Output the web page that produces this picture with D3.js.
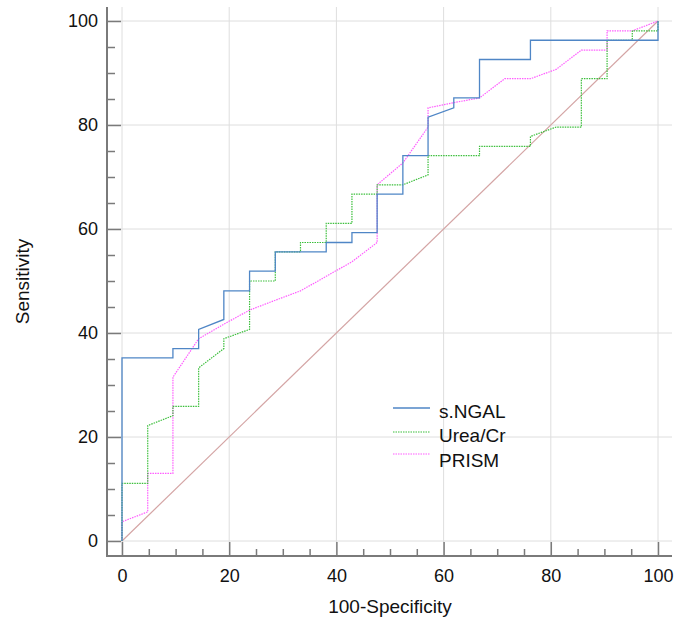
<!DOCTYPE html>
<html>
<head>
<meta charset="utf-8">
<script src="https://cdn.jsdelivr.net/npm/d3@7"></script>
<style>
  html, body { margin: 0; padding: 0; background: #fff; }
  svg { display: block; font-family: "Liberation Sans", Arial, sans-serif; }
</style>
</head>
<body>
<div id="chart"></div>
<script>
// ROC curves: 100-Specificity (x) vs Sensitivity (y)
const ngalX = [0, 0, 9.5, 9.5, 14.3, 14.3, 19.0, 19.0, 23.8, 23.8, 28.6, 28.6, 38.1, 38.1, 42.9, 42.9, 47.6, 47.6, 52.4, 52.4, 57.1, 57.1, 61.9, 61.9, 66.7, 66.7, 76.2, 76.2, 100, 100];
const ngalY = [0, 35.2, 35.2, 37.0, 37.0, 40.7, 42.6, 48.1, 48.1, 51.9, 51.9, 55.6, 55.6, 57.4, 57.4, 59.3, 59.3, 66.7, 66.7, 74.1, 74.1, 81.5, 83.3, 85.2, 85.2, 92.6, 92.6, 96.3, 96.3, 100];

const ureaX = [0, 0, 4.8, 4.8, 9.5, 9.5, 14.3, 14.3, 19.0, 19.0, 23.8, 23.8, 28.6, 28.6, 33.3, 33.3, 38.1, 38.1, 42.9, 42.9, 47.6, 47.6, 52.4, 57.1, 57.1, 66.7, 66.7, 76.2, 76.2, 81.0, 85.7, 85.7, 90.5, 90.5, 95.2, 95.2, 100, 100];
const ureaY = [0, 11.1, 11.1, 22.2, 24.1, 25.9, 25.9, 33.3, 37.0, 38.9, 40.7, 50.0, 50.0, 55.6, 55.6, 57.4, 57.4, 61.1, 61.1, 66.7, 66.7, 68.5, 68.5, 70.4, 74.1, 74.1, 75.9, 75.9, 77.8, 79.6, 79.6, 88.9, 88.9, 96.3, 96.3, 98.1, 98.1, 100];

const prismX = [0, 0, 4.8, 4.8, 9.5, 9.5, 14.3, 19.0, 23.8, 28.6, 33.3, 38.1, 42.9, 47.6, 47.6, 52.4, 57.1, 57.1, 61.9, 66.7, 71.4, 76.2, 81.0, 85.7, 90.5, 90.5, 95.2, 100];
const prismY = [0, 3.7, 5.6, 13.0, 13.0, 31.5, 38.9, 41.7, 44.4, 46.3, 48.1, 50.9, 53.7, 57.4, 68.5, 72.7, 79.6, 83.3, 84.3, 85.2, 88.9, 88.9, 90.7, 94.4, 94.4, 98.1, 98.1, 100];

const refX = [0, 100];
const refY = [0, 100];

const seriesNames = ["s.NGAL", "Urea/Cr", "PRISM"];
const majorTicks = [0, 20, 40, 60, 80, 100];
const minorTicks = d3.range(0, 101, 5).filter((v) => v % 20 !== 0);

const series = [
  { name: seriesNames[0], xs: ngalX, ys: ngalY, color: "#4f86c6", dash: null, width: 1.3 },
  { name: seriesNames[1], xs: ureaX, ys: ureaY, color: "#3cbf3c", dash: "1.5,1", width: 1.2 },
  { name: seriesNames[2], xs: prismX, ys: prismY, color: "#ff5cff", dash: "1.5,1", width: 1.2 },
];

const width = 675;
const height = 619;
const axisColor = "#7a7a7a";
const gridColor = "#dedede";

const svg = d3
  .select("#chart")
  .append("svg")
  .attr("width", width)
  .attr("height", height);

const x = d3.scaleLinear().domain([0, 100]).range([122, 658]);
const y = d3.scaleLinear().domain([0, 100]).range([541, 21]);

const frame = { left: 107, right: 672, top: 7, bottom: 556 };

// grid
const grid = svg.append("g").attr("stroke", gridColor).attr("stroke-width", 1);
grid
  .selectAll(".vg")
  .data(majorTicks)
  .join("line")
  .attr("x1", (d) => x(d))
  .attr("x2", (d) => x(d))
  .attr("y1", frame.top)
  .attr("y2", frame.bottom);
grid
  .selectAll(".hg")
  .data(majorTicks)
  .join("line")
  .attr("x1", frame.left)
  .attr("x2", frame.right)
  .attr("y1", (d) => y(d))
  .attr("y2", (d) => y(d));

// axes
function styleAxis(sel) {
  sel.select(".domain").remove();
  sel.selectAll(".tick line").attr("stroke", axisColor).attr("stroke-width", 1.5);
  sel.selectAll(".tick text").attr("fill", "#111").attr("font-size", 18);
}

const xAxis = svg
  .append("g")
  .attr("transform", `translate(0,${frame.bottom})`)
  .call(d3.axisBottom(x).tickValues(majorTicks).tickSizeInner(-14).tickSizeOuter(0).tickPadding(13));
styleAxis(xAxis);

const xMinor = svg
  .append("g")
  .attr("transform", `translate(0,${frame.bottom})`)
  .call(d3.axisBottom(x).tickValues(minorTicks).tickSizeInner(-7).tickSizeOuter(0).tickFormat(""));
styleAxis(xMinor);

const yAxis = svg
  .append("g")
  .attr("transform", `translate(${frame.left},0)`)
  .call(d3.axisLeft(y).tickValues(majorTicks).tickSizeInner(-14).tickSizeOuter(0).tickPadding(9));
styleAxis(yAxis);

const yMinor = svg
  .append("g")
  .attr("transform", `translate(${frame.left},0)`)
  .call(d3.axisLeft(y).tickValues(minorTicks).tickSizeInner(-8).tickSizeOuter(0).tickFormat(""));
styleAxis(yMinor);

svg
  .append("path")
  .attr("d", `M${frame.left},${frame.top}V${frame.bottom}H${frame.right}`)
  .attr("fill", "none")
  .attr("stroke", axisColor)
  .attr("stroke-width", 2);

// axis titles
svg
  .append("text")
  .attr("x", (x(0) + x(100)) / 2)
  .attr("y", 613)
  .attr("text-anchor", "middle")
  .attr("font-size", 19)
  .attr("fill", "#111")
  .text("100-Specificity");

svg
  .append("text")
  .attr("transform", `translate(29,${(frame.top + frame.bottom) / 2}) rotate(-90)`)
  .attr("text-anchor", "middle")
  .attr("font-size", 19)
  .attr("fill", "#111")
  .text("Sensitivity");

// diagonal reference
const line = d3
  .line()
  .x((d) => x(d[0]))
  .y((d) => y(d[1]));

svg
  .append("path")
  .datum(d3.zip(refX, refY))
  .attr("d", line)
  .attr("fill", "none")
  .attr("stroke", "#d4a4a4")
  .attr("stroke-width", 1.2);

// curves (draw pink first so blue sits on top)
svg
  .append("g")
  .selectAll("path")
  .data(series.slice().reverse())
  .join("path")
  .attr("d", (s) => line(d3.zip(s.xs, s.ys)))
  .attr("fill", "none")
  .attr("stroke", (s) => s.color)
  .attr("stroke-width", (s) => s.width)
  .attr("stroke-dasharray", (s) => s.dash);

// legend
const legendLineY = [408, 432, 454];
const legendTextY = [418, 442, 467];
const legend = svg.append("g");
series.forEach((s, i) => {
  legend
    .append("line")
    .attr("x1", 393)
    .attr("x2", 430)
    .attr("y1", legendLineY[i])
    .attr("y2", legendLineY[i])
    .attr("stroke", s.color)
    .attr("stroke-width", s.width)
    .attr("stroke-dasharray", s.dash);
  legend
    .append("text")
    .attr("x", 439)
    .attr("y", legendTextY[i])
    .attr("font-size", 19)
    .attr("fill", "#111")
    .text(s.name);
});
</script>
</body>
</html>
